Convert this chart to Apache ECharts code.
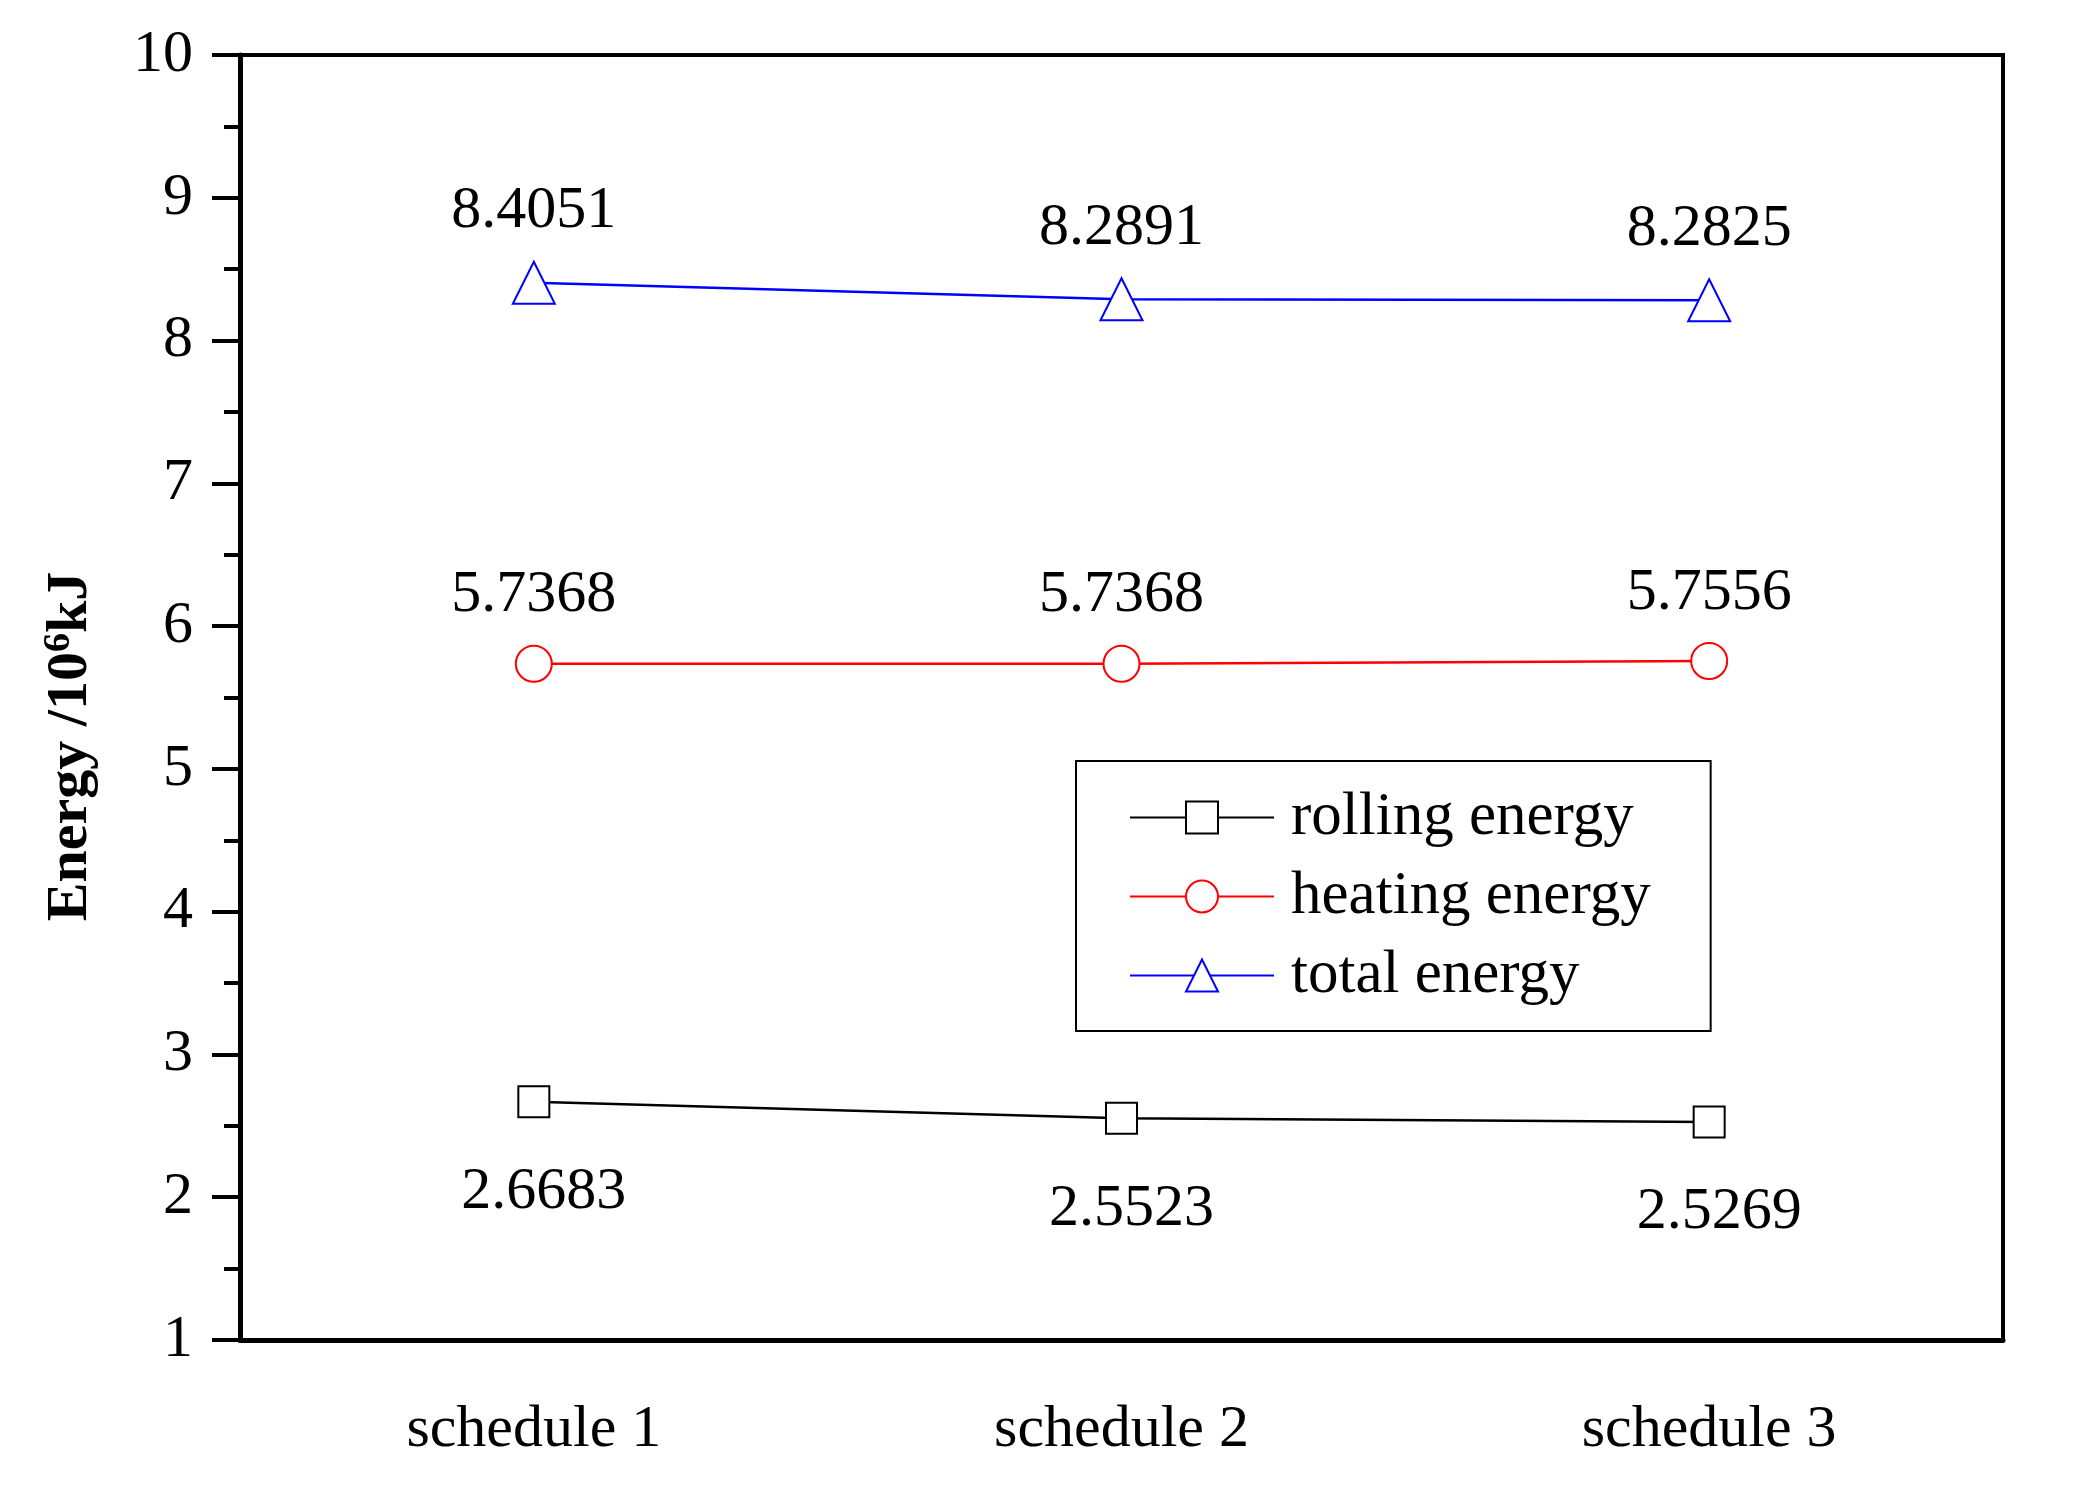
<!DOCTYPE html>
<html>
<head>
<meta charset="utf-8">
<script src="https://cdn.jsdelivr.net/npm/echarts@6/dist/echarts.min.js"></script>
<style>
html,body{margin:0;padding:0;background:#fff;}
#chart{width:2080px;height:1504px;}
</style>
</head>
<body>
<div id="chart"></div>
<script>
const categories = ['schedule 1', 'schedule 2', 'schedule 3'];
const rollingEnergy = [2.6683, 2.5523, 2.5269];
const heatingEnergy = [5.7368, 5.7368, 5.7556];
const totalEnergy = [8.4051, 8.2891, 8.2825];
const seriesNames = ['rolling energy', 'heating energy', 'total energy'];

const FONT = "'Liberation Serif', 'Times New Roman', serif";
const chart = echarts.init(document.getElementById('chart'));

function lbl(pos, dist) {
  return {
    show: true, position: pos, distance: dist,
    fontFamily: FONT, fontSize: 60, color: '#000',
    formatter: p => p.value.toFixed(4)
  };
}

chart.setOption({
  backgroundColor: '#fff',
  animation: false,
  grid: { left: 240, top: 55, right: 77, bottom: 164, show: true, borderColor: '#000', borderWidth: 4 },
  legend: {
    orient: 'vertical', left: 1076, top: 761,
    data: seriesNames,
    itemWidth: 144, itemHeight: 40, itemGap: 18,
    padding: [26, 60, 25, 53],
    borderColor: '#000', borderWidth: 2,
    textStyle: { fontFamily: FONT, fontSize: 61, color: '#000', padding: [0, 0, 0, 12] },
    selectedMode: false
  },
  xAxis: {
    type: 'category', data: categories, boundaryGap: true,
    axisLine: { lineStyle: { color: '#000', width: 5 } },
    axisTick: { inside: true, alignWithLabel: true, length: 27, lineStyle: { color: '#000', width: 3 } },
    axisLabel: { fontFamily: FONT, fontSize: 60, color: '#000', margin: 60 },
    splitLine: { show: false }
  },
  yAxis: {
    type: 'value', min: 1, max: 10, interval: 1,
    name: '{b|Energy /10}{s|6}{b|kJ}',
    nameLocation: 'middle', nameRotate: 90, nameGap: 138,
    nameTextStyle: {
      padding: [0, 98, 0, 0],
      rich: {
        b: { fontFamily: FONT, fontSize: 58, fontWeight: 'bold', color: '#000', lineHeight: 62 },
        s: { fontFamily: FONT, fontSize: 38, fontWeight: 'bold', color: '#000', lineHeight: 38, verticalAlign: 'top' }
      }
    },
    axisLine: { show: true, lineStyle: { color: '#000', width: 5 } },
    axisTick: { show: true, inside: false, length: 28, lineStyle: { color: '#000', width: 4 } },
    minorTick: { show: true, splitNumber: 2, length: 16, lineStyle: { color: '#000', width: 4 } },
    axisLabel: { fontFamily: FONT, fontSize: 60, color: '#000', margin: 47 },
    splitLine: { show: false }
  },
  series: [
    {
      name: seriesNames[0], type: 'line', data: rollingEnergy,
      symbol: 'emptyRect', symbolSize: 31,
      lineStyle: { color: '#000', width: 2.5 },
      itemStyle: { color: '#000', borderWidth: 2 },
      label: Object.assign(lbl('bottom', 44), { offset: [10, 0] })
    },
    {
      name: seriesNames[1], type: 'line', data: heatingEnergy,
      symbol: 'emptyCircle', symbolSize: 36,
      lineStyle: { color: '#ff0000', width: 2.5 },
      itemStyle: { color: '#ff0000', borderWidth: 2 },
      label: lbl('top', 19)
    },
    {
      name: seriesNames[2], type: 'line', data: totalEnergy,
      symbol: 'emptyTriangle', symbolSize: 42,
      lineStyle: { color: '#0000ff', width: 2.5 },
      itemStyle: { color: '#0000ff', borderWidth: 2 },
      label: lbl('top', 19)
    }
  ]
});
</script>
</body>
</html>
